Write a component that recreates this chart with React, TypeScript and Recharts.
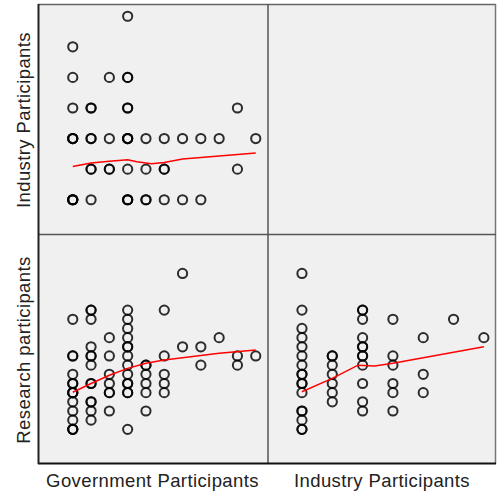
import React from 'react';
import { ScatterChart, Scatter, XAxis, YAxis } from 'recharts';

// [x, y, how many cases sit on that spot]
const govIndustry: number[][] = [
  [4, 7, 1],
  [1, 6, 1],
  [1, 5, 1], [3, 5, 1], [4, 5, 2],
  [1, 4, 1], [2, 4, 2], [4, 4, 2], [10, 4, 1],
  [1, 3, 3], [2, 3, 2], [3, 3, 1], [4, 3, 3], [5, 3, 1], [6, 3, 1], [7, 3, 1], [8, 3, 1], [9, 3, 1], [11, 3, 1],
  [2, 2, 2], [3, 2, 2], [4, 2, 1], [5, 2, 1], [6, 2, 2], [10, 2, 1],
  [1, 1, 4], [2, 1, 1], [4, 1, 3], [5, 1, 2], [6, 1, 1], [7, 1, 1], [8, 1, 1],
];

const govResearch: number[][] = [
  [1, 13, 1], [1, 9, 2], [1, 7, 1], [1, 6, 2], [1, 5, 3], [1, 4, 1], [1, 3, 1], [1, 2, 1], [1, 1, 3],
  [2, 14, 2], [2, 13, 1], [2, 10, 1], [2, 9, 2], [2, 8, 1], [2, 6, 2], [2, 4, 2], [2, 3, 1], [2, 2, 1],
  [3, 11, 1], [3, 9, 1], [3, 7, 1], [3, 6, 1], [3, 5, 2], [3, 3, 1],
  [4, 14, 1], [4, 13, 1], [4, 12, 1], [4, 11, 1], [4, 10, 2], [4, 9, 1], [4, 8, 1], [4, 7, 1], [4, 6, 2], [4, 5, 2], [4, 1, 1],
  [5, 8, 2], [5, 7, 1], [5, 6, 1], [5, 5, 1], [5, 3, 1],
  [6, 14, 1], [6, 9, 1], [6, 7, 1], [6, 6, 1], [6, 5, 1],
  [7, 18, 1], [7, 10, 1],
  [8, 10, 1], [8, 8, 1],
  [9, 11, 1],
  [10, 9, 1], [10, 8, 1],
  [11, 9, 1],
];

const industryResearch: number[][] = [
  [1, 18, 1], [1, 14, 1], [1, 12, 1], [1, 11, 1], [1, 10, 1], [1, 9, 1], [1, 8, 1], [1, 7, 2], [1, 6, 2], [1, 5, 1], [1, 3, 2], [1, 2, 1], [1, 1, 2],
  [2, 9, 2], [2, 8, 1], [2, 7, 1], [2, 6, 1], [2, 5, 1], [2, 4, 1],
  [3, 14, 2], [3, 13, 1], [3, 11, 1], [3, 10, 2], [3, 9, 2], [3, 8, 1], [3, 6, 1], [3, 4, 1], [3, 3, 1],
  [4, 13, 1], [4, 9, 1], [4, 8, 1], [4, 6, 1], [4, 5, 1], [4, 3, 1],
  [5, 11, 1], [5, 7, 1], [5, 5, 1],
  [6, 13, 1],
  [7, 11, 1],
];

// loess fit lines
const govIndustryFit: number[][] = [
  [1, 2.09], [2, 2.2], [3, 2.26], [4, 2.31], [4.5, 2.24], [5.3, 2.18], [6, 2.22], [7, 2.33], [9, 2.43], [11, 2.53],
];
const govResearchFit: number[][] = [
  [1, 5.04], [2, 6.0], [3, 6.9], [4, 7.65], [5, 8.2], [6, 8.56], [7, 8.8], [8, 9.04], [9, 9.3], [11, 9.65],
];
const industryResearchFit: number[][] = [
  [1, 5.1], [2, 6.56], [2.85, 8.0], [3.4, 7.9], [4, 8.2], [5, 8.8], [7, 10],
];

const govDomain = [-0.9, 11.67];
const industryDomain = [-0.12, 7.4];
const researchDomain = [-2.78, 22.3];

const expand = (pts: number[][]) =>
  pts.flatMap(([x, y, n]) => Array.from({ length: n }, () => ({ x, y })));
const toXY = (pts: number[][]) => pts.map(([x, y]) => ({ x, y }));

const Ring = (props: any) => (
  <circle cx={props.cx} cy={props.cy} r={4.6} fill="none" stroke="#000" strokeOpacity={0.82} strokeWidth={2} />
);
const Empty = () => <g />;

interface PanelProps {
  left: number;
  top: number;
  width: number;
  height: number;
  xDomain: number[];
  yDomain: number[];
  points: number[][];
  fit: number[][];
}

const Panel: React.FC<PanelProps> = ({ left, top, width, height, xDomain, yDomain, points, fit }) => (
  <div style={{ position: 'absolute', left, top, width, height, background: '#f0f0f0' }}>
    <ScatterChart width={width} height={height} margin={{ top: 0, right: 0, bottom: 0, left: 0 }}>
      <XAxis type="number" dataKey="x" domain={xDomain} hide allowDataOverflow />
      <YAxis type="number" dataKey="y" domain={yDomain} hide allowDataOverflow />
      <Scatter data={expand(points)} shape={Ring} isAnimationActive={false} />
      <Scatter data={toXY(fit)} line={{ stroke: '#ff0000', strokeWidth: 1.5 }} shape={Empty} isAnimationActive={false} />
    </ScatterChart>
  </div>
);

const labelStyle = {
  fontFamily: '"Liberation Sans", Arial, sans-serif',
  fontSize: 18.5,
  letterSpacing: 0.4,
  fill: '#222',
};

export default function App() {
  return (
    <div style={{ position: 'absolute', left: 0, top: 0, width: 499, height: 493, background: '#fff' }}>
      <Panel left={38} top={4} width={230} height={230} xDomain={govDomain} yDomain={industryDomain} points={govIndustry} fit={govIndustryFit} />
      <div style={{ position: 'absolute', left: 268, top: 4, width: 228, height: 230, background: '#f0f0f0' }} />
      <Panel left={38} top={234} width={230} height={230} xDomain={govDomain} yDomain={researchDomain} points={govResearch} fit={govResearchFit} />
      <Panel left={268} top={234} width={228} height={230} xDomain={industryDomain} yDomain={researchDomain} points={industryResearch} fit={industryResearchFit} />

      <svg width={499} height={493} style={{ position: 'absolute', left: 0, top: 0, pointerEvents: 'none' }}>
        <line x1={38} y1={4.5} x2={496} y2={4.5} stroke="#666" strokeWidth={1.5} />
        <line x1={495.5} y1={4} x2={495.5} y2={464} stroke="#777" strokeWidth={1.5} />
        <line x1={268} y1={4} x2={268} y2={464} stroke="#555" strokeWidth={1.5} />
        <line x1={38} y1={234.5} x2={496} y2={234.5} stroke="#555" strokeWidth={1.5} />
        <line x1={38} y1={463.5} x2={496} y2={463.5} stroke="#111" strokeWidth={2} />
        <line x1={38.5} y1={4} x2={38.5} y2={464} stroke="#222" strokeWidth={2} />

        <text x={152.5} y={487} textAnchor="middle" style={labelStyle}>Government Participants</text>
        <text x={382} y={487} textAnchor="middle" style={labelStyle}>Industry Participants</text>
        <text transform="translate(30,120) rotate(-90)" textAnchor="middle" style={labelStyle}>Industry Participants</text>
        <text transform="translate(30,350) rotate(-90)" textAnchor="middle" style={labelStyle}>Research participants</text>
      </svg>
    </div>
  );
}
